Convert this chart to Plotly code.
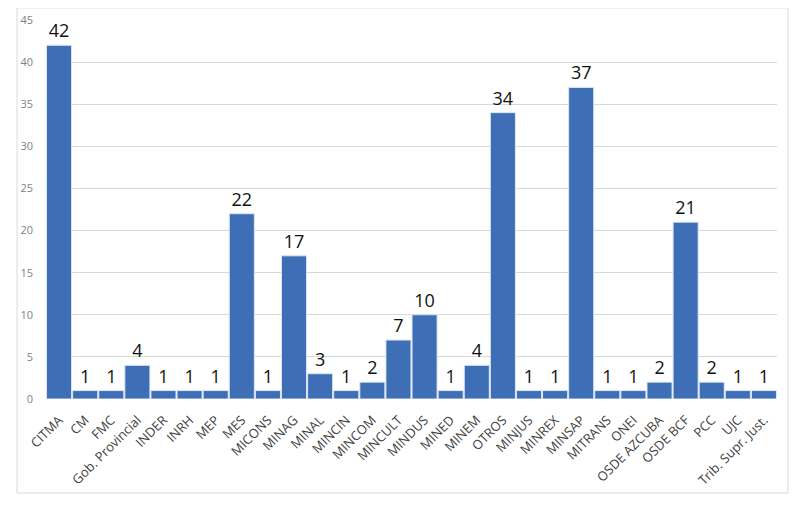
import plotly.graph_objects as go

# categorías y cantidades
categorias = ["CITMA", "CM", "FMC", "Gob. Provincial", "INDER", "INRH", "MEP", "MES",
              "MICONS", "MINAG", "MINAL", "MINCIN", "MINCOM", "MINCULT", "MINDUS",
              "MINED", "MINEM", "OTROS", "MINJUS", "MINREX", "MINSAP", "MITRANS",
              "ONEI", "OSDE AZCUBA", "OSDE BCF", "PCC", "UJC", "Trib. Supr. Just."]
valores = [42, 1, 1, 4, 1, 1, 1, 22, 1, 17, 3, 1, 2, 7, 10, 1, 4, 34, 1, 1, 37, 1,
           1, 2, 21, 2, 1, 1]
ticks_y = [0, 5, 10, 15, 20, 25, 30, 35, 40, 45]

fig = go.Figure()
fig.add_trace(go.Bar(
    x=categorias,
    y=valores,
    text=valores,
    textposition="outside",
    textfont=dict(size=18, color="#111111"),
    marker=dict(color="#3E6FB6", line=dict(color="#DCE6F2", width=1)),
    cliponaxis=False,
))

fig.update_layout(
    width=800, height=512,
    margin=dict(l=38, r=31, t=12, b=121),
    paper_bgcolor="white",
    plot_bgcolor="white",
    font=dict(family="Open Sans", color="#595959"),
    bargap=0.04,
    showlegend=False,
    xaxis=dict(tickangle=-45, tickfont=dict(size=13, color="#404040"),
               showgrid=False, ticks="", showline=False, automargin=False,
               ticklabelstandoff=10),
    yaxis=dict(range=[0, 45], tickvals=ticks_y, tickfont=dict(size=11, color="#7F7F7F"),
               showgrid=True, gridcolor="#D9D9D9", gridwidth=1, zeroline=False,
               ticks="", showline=False, automargin=False, ticklabelstandoff=12),
)

# marco exterior del gráfico
fig.add_shape(type="rect", xref="paper", yref="paper",
              x0=-0.0396, x1=1.015, y0=-0.248, y1=1.032,
              line=dict(color="#D9D9D9", width=1))

fig.write_html("out.html")
